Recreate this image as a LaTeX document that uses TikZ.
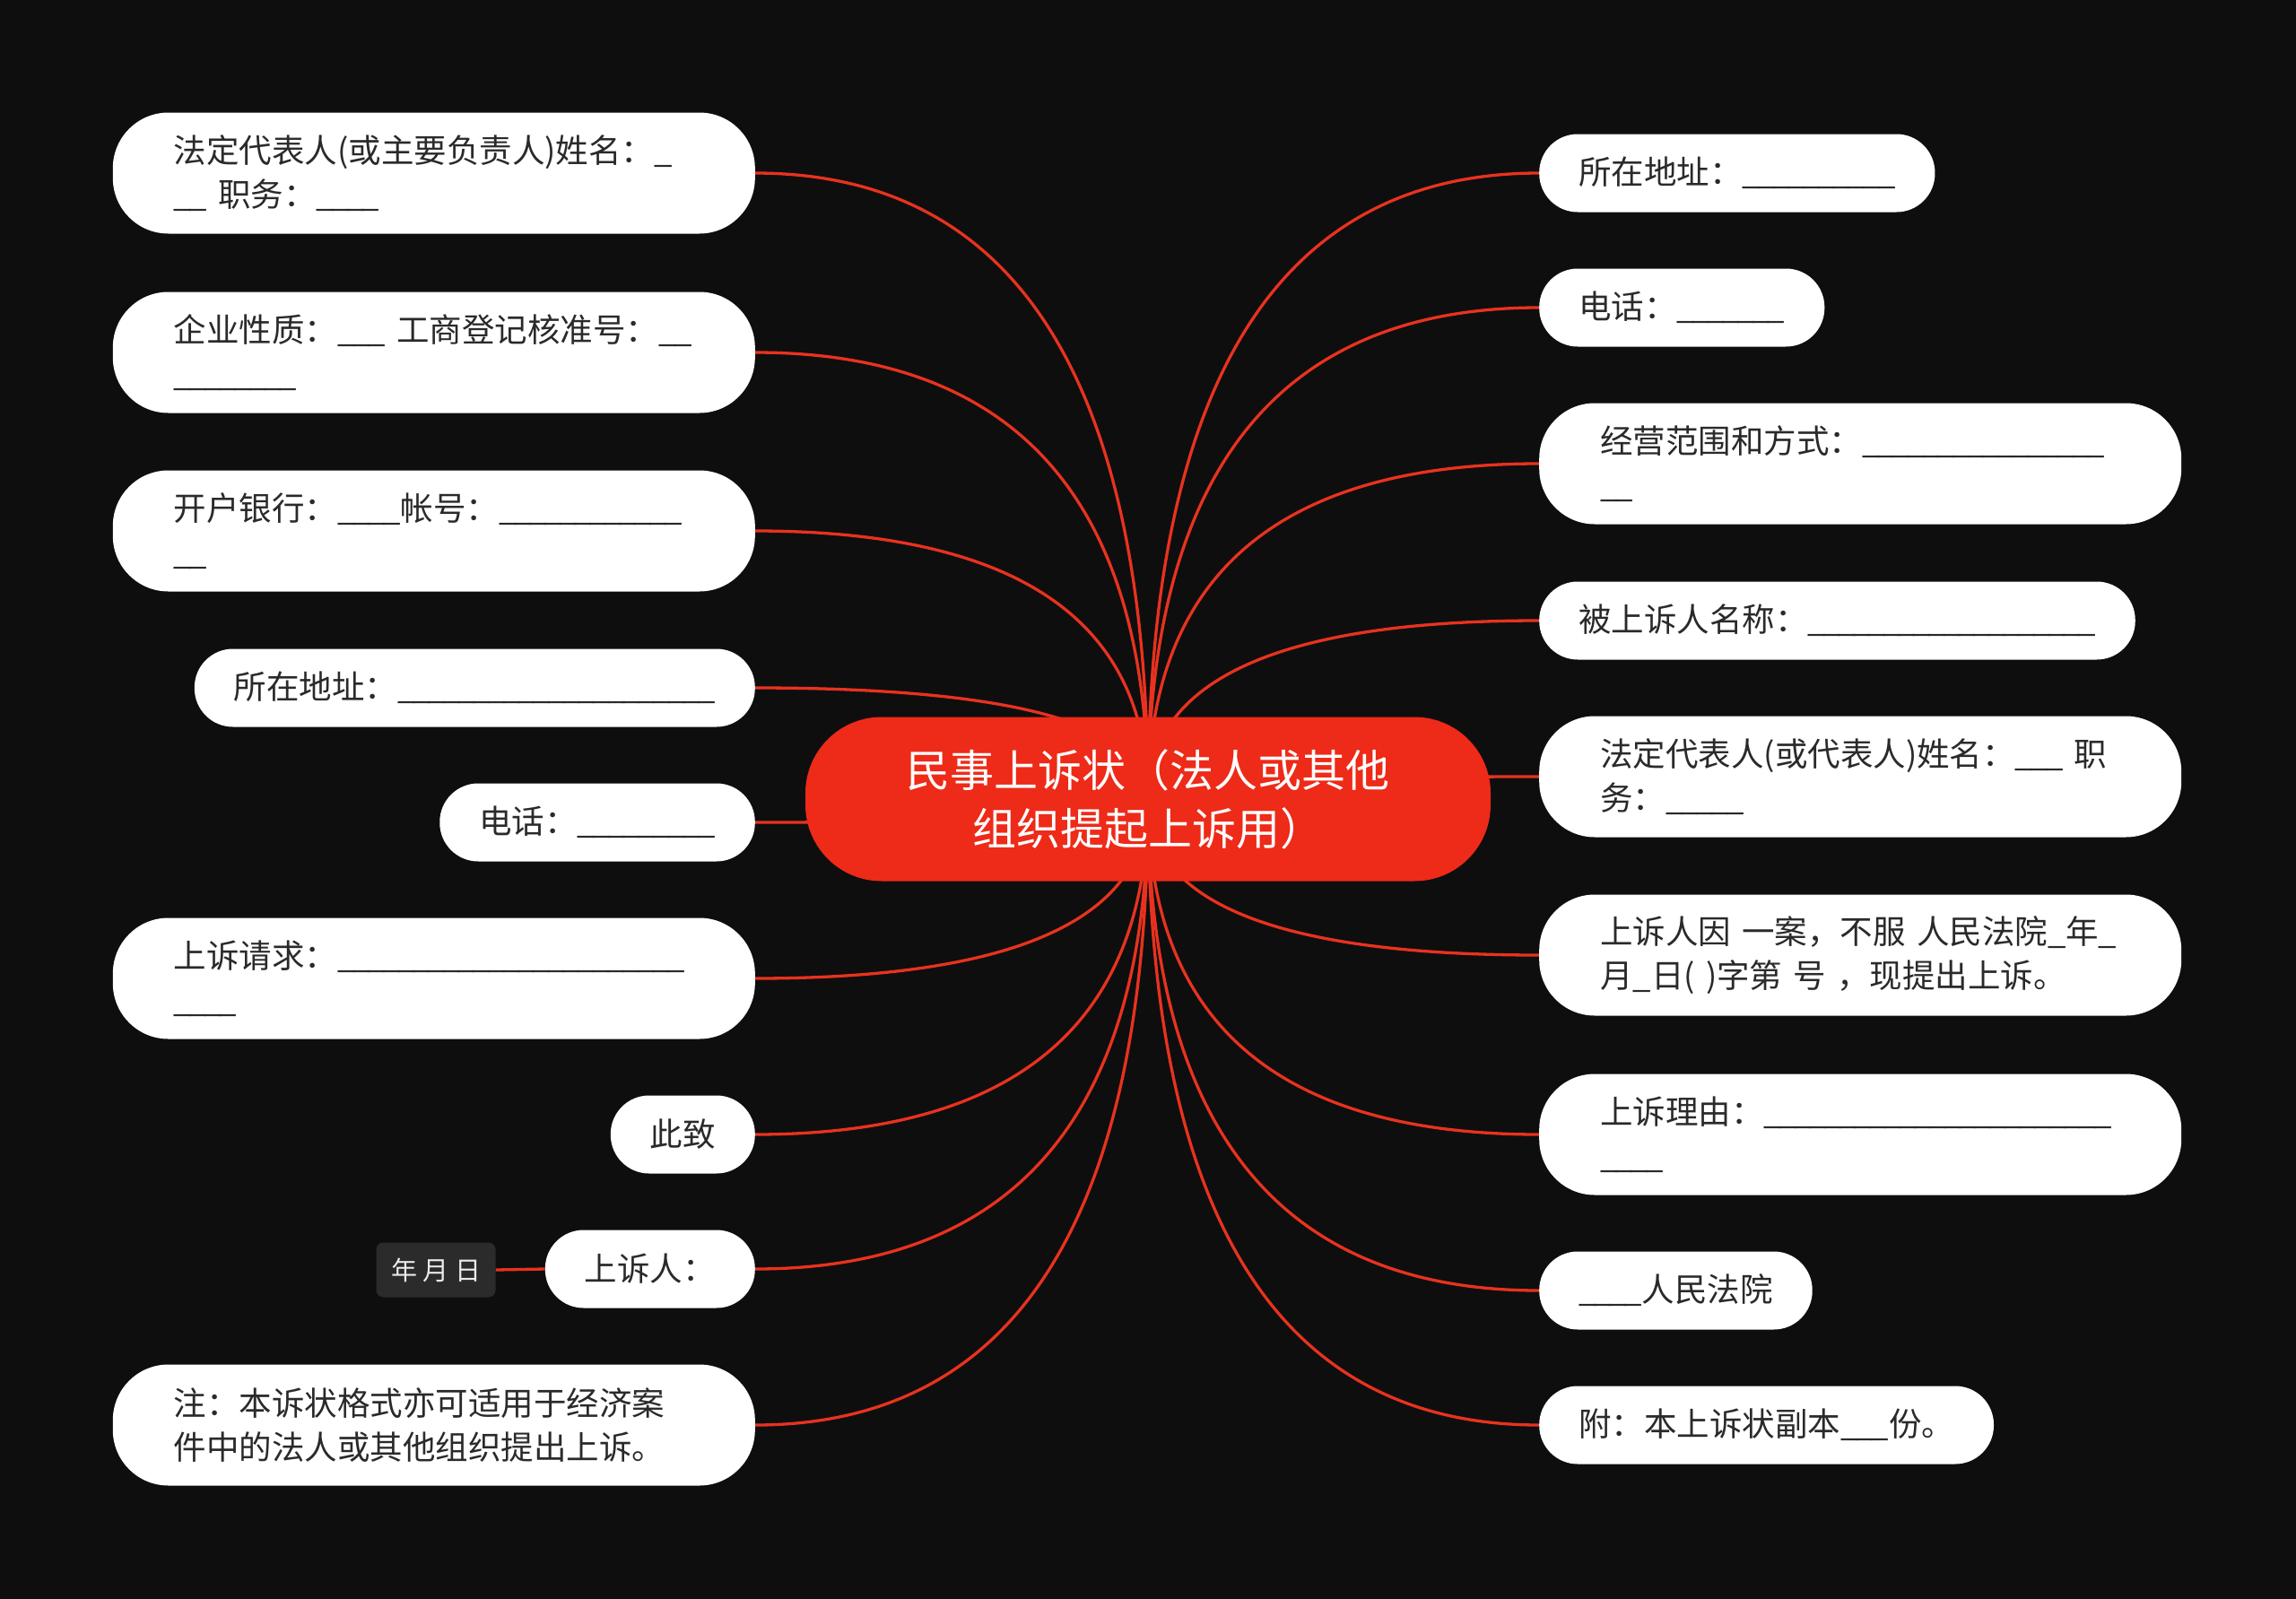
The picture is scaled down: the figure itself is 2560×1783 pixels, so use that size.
\documentclass[tikz,border=0pt]{standalone}
\usepackage{fontspec}
\setmainfont{Noto Sans CJK SC}
\usetikzlibrary{calc,backgrounds}
\definecolor{bgdark}{HTML}{0E0E0E}
\definecolor{rootred}{HTML}{EE2A18}
\definecolor{linkred}{HTML}{E8321F}
\definecolor{leafink}{HTML}{2A2A2A}
\definecolor{tagfill}{HTML}{2B2B2B}
\newcommand\blanks[1]{\foreach\i in {1,...,#1}{\_\kern-3.7pt}\kern3.7pt}
\tikzset{
  root/.style={fill=rootred, text=white, rounded corners=85pt, minimum width=764pt, minimum height=183pt, align=center, font=\fontsize{49}{65}\selectfont},
  leaf/.style={fill=white, text=leafink, rounded corners=43pt, minimum height=87pt, inner xsep=44pt, inner ysep=0pt, font=\fontsize{36.5}{49}\selectfont},
  wideleaf/.style={leaf, rounded corners=62pt, minimum height=135pt, inner xsep=68pt, text width=580pt, align=left},
  tag/.style={fill=tagfill, text=white!92!black, rounded corners=8pt, minimum width=133pt, minimum height=61pt, font=\fontsize{29}{35}\selectfont},
  link/.style={draw=linkred, line width=3.3pt}
}
\begin{document}
\begin{tikzpicture}[x=1pt,y=-1pt]
  \useasboundingbox (0,0) rectangle (2560,1783);
  \node[root] (root) at (1280,891) {民事上诉状（法人或其他\\组织提起上诉用）};
  % left side
  \node[wideleaf,anchor=east] (L1) at (842,193) {法定代表人(或主要负责人)姓名：\blanks{1}\\\blanks{2}~职务：\blanks{4}};
  \node[wideleaf,anchor=east] (L2) at (842,393) {企业性质：\blanks{3}~工商登记核准号：\blanks{2}\\\blanks{8}};
  \node[wideleaf,anchor=east] (L3) at (842,592) {开户银行：\blanks{4}帐号：\blanks{12}\\\blanks{2}};
  \node[leaf,anchor=east] (L4) at (842,767) {所在地址：\blanks{21}};
  \node[leaf,anchor=east] (L5) at (842,917) {电话：\blanks{9}};
  \node[wideleaf,anchor=east] (L6) at (842,1091) {上诉请求：\blanks{23}\\\blanks{4}};
  \node[leaf,anchor=east] (L7) at (842,1265) {此致};
  \node[leaf,anchor=east] (L8) at (842,1415) {上诉人：};
  \node[wideleaf,anchor=east] (L9) at (842,1589) {注：本诉状格式亦可适用于经济案\\件中的法人或其他组织提出上诉。};
  \node[tag] (date) at (486,1416) {年~月~日};
  % right side
  \node[leaf,anchor=west] (R1) at (1716,193) {所在地址：\blanks{10}};
  \node[leaf,anchor=west] (R2) at (1716,343) {电话：\blanks{7}};
  \node[wideleaf,anchor=west] (R3) at (1716,517) {经营范围和方式：\blanks{16}\\\blanks{2}};
  \node[leaf,anchor=west] (R4) at (1716,692) {被上诉人名称：\blanks{19}};
  \node[wideleaf,anchor=west] (R5) at (1716,866) {法定代表人(或代表人)姓名：\blanks{3}~职\\务：\blanks{5}};
  \node[wideleaf,anchor=west] (R6) at (1716,1065) {上诉人因~一案，不服~人民法院\_年\_\\月\_日(~)字第~号~，现提出上诉。};
  \node[wideleaf,anchor=west] (R7) at (1716,1265) {上诉理由：\blanks{23}\\\blanks{4}};
  \node[leaf,anchor=west] (R8) at (1716,1439) {\blanks{4}人民法院};
  \node[leaf,anchor=west] (R9) at (1716,1589) {附：本上诉状副本\blanks{3}份。};
  \begin{scope}[on background layer]
    \fill[bgdark] (0,0) rectangle (2560,1783);
    \foreach \n in {L1,L2,L3,L4,L5,L6,L7,L8,L9}
      \draw[link] (root.center) .. controls ($(root.center)!2/3!(root.center |- \n.east)$) and ($(\n.east)!2/3!(root.center |- \n.east)$) .. (\n.east);
    \foreach \n in {R1,R2,R3,R4,R5,R6,R7,R8,R9}
      \draw[link] (root.center) .. controls ($(root.center)!2/3!(root.center |- \n.west)$) and ($(\n.west)!2/3!(root.center |- \n.west)$) .. (\n.west);
    \draw[link] (L8.west) -- (date.east);
  \end{scope}
\end{tikzpicture}
\end{document}
